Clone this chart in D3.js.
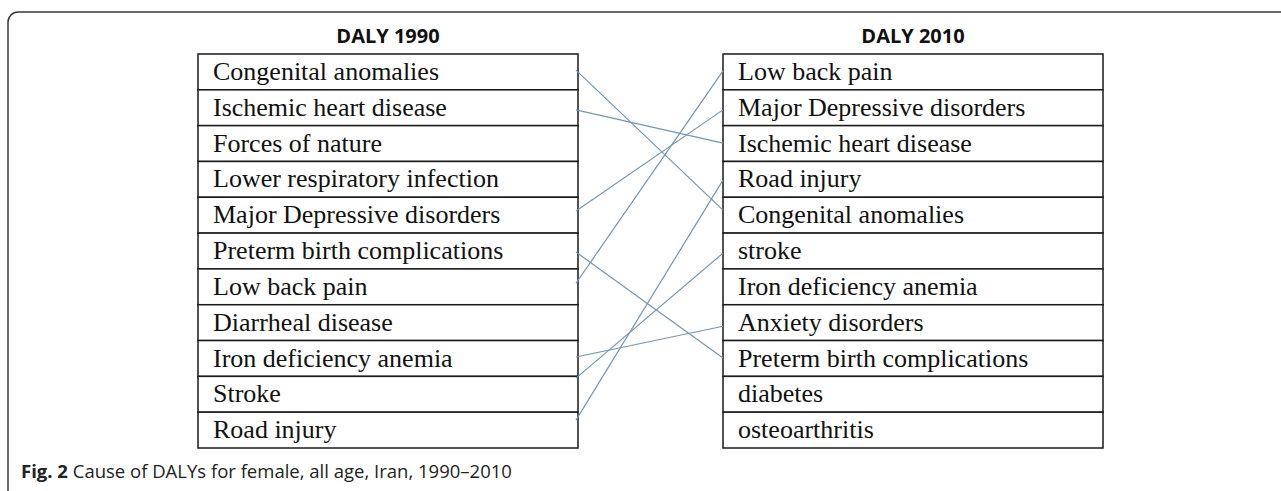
<!DOCTYPE html>
<html>
<head>
<meta charset="utf-8">
<script src="https://cdn.jsdelivr.net/npm/d3@7"></script>
<style>
    body { margin: 0; background: #fff; }
    #slope-chart { width: 1281px; height: 491px; }
</style>
</head>
<body>
<div id="slope-chart"></div>
<script>

// rankings, top to bottom
let causes1990 = ["Congenital anomalies", "Ischemic heart disease", "Forces of nature", "Lower respiratory infection",
    "Major Depressive disorders", "Preterm birth complications", "Low back pain", "Diarrheal disease",
    "Iron deficiency anemia", "Stroke", "Road injury"];
let causes2010 = ["Low back pain", "Major Depressive disorders", "Ischemic heart disease", "Road injury",
    "Congenital anomalies", "stroke", "Iron deficiency anemia", "Anxiety disorders",
    "Preterm birth complications", "diabetes", "osteoarthritis"];

// connector ends, measured in rows from the top of each table (as drawn in the figure)
let linkFrom = [0.45, 1.56, 4.38, 5.53, 6.40, 8.46, 9.05, 10.22];
let linkTo   = [4.36, 2.49, 1.56, 8.49, 0.47, 7.60, 5.56, 3.52];

let headers = ["DALY 1990", "DALY 2010"];
let captionBold = "Fig. 2";
let captionText = " Cause of DALYs for female, all age, Iran, 1990\u20132010";

class SlopeTable {

    constructor(parentElement) {
        this.parentElement = parentElement;
        this.initVis();
    }

    initVis() {
        let vis = this;

        vis.width = 1281;
        vis.height = 491;

        vis.svg = d3.select("#" + vis.parentElement)
            .append("svg")
            .attr("width", vis.width)
            .attr("height", vis.height);

        // panel frame, runs off the right and bottom edges
        vis.svg.append("rect")
            .attr("x", 8)
            .attr("y", 12)
            .attr("width", 1300)
            .attr("height", 520)
            .attr("rx", 10)
            .attr("fill", "none")
            .attr("stroke", "#3a3a3a")
            .attr("stroke-width", 1.5);

        vis.rowScale = d3.scaleLinear()
            .domain([0, causes1990.length])
            .range([54, 448]);

        vis.tables = [
            {x0: 198, x1: 578, rows: causes1990, title: headers[0]},
            {x0: 723, x1: 1103, rows: causes2010, title: headers[1]}
        ];

        vis.updateVis();
    }

    updateVis() {
        let vis = this;

        vis.tables.forEach(function (t) {
            let g = vis.svg.append("g");

            g.append("text")
                .attr("x", (t.x0 + t.x1) / 2)
                .attr("y", 43)
                .attr("text-anchor", "middle")
                .style("font-family", "'Open Sans', sans-serif")
                .style("font-weight", "bold")
                .style("font-size", "20px")
                .attr("fill", "#111")
                .text(t.title);

            g.selectAll(".cell")
                .data(t.rows)
                .enter()
                .append("rect")
                .attr("class", "cell")
                .attr("x", t.x0)
                .attr("y", (d, i) => vis.rowScale(i))
                .attr("width", t.x1 - t.x0)
                .attr("height", vis.rowScale(1) - vis.rowScale(0))
                .attr("fill", "#fff")
                .attr("stroke", "#1a1a1a")
                .attr("stroke-width", 1.5);

            g.selectAll(".label")
                .data(t.rows)
                .enter()
                .append("text")
                .attr("class", "label")
                .attr("x", t.x0 + 15)
                .attr("y", (d, i) => vis.rowScale(i) + 26)
                .style("font-family", "'Liberation Serif', 'Times New Roman', serif")
                .style("font-size", "26px")
                .attr("fill", "#111")
                .text(d => d);
        });

        vis.svg.selectAll(".link")
            .data(d3.zip(linkFrom, linkTo))
            .enter()
            .append("line")
            .attr("class", "link")
            .attr("x1", vis.tables[0].x1 - 2)
            .attr("y1", d => vis.rowScale(d[0]))
            .attr("x2", vis.tables[1].x0)
            .attr("y2", d => vis.rowScale(d[1]))
            .attr("stroke", "#7396b3")
            .attr("stroke-width", 1.2);

        let cap = vis.svg.append("text")
            .attr("x", 21)
            .attr("y", 478)
            .style("font-family", "'Open Sans', sans-serif")
            .style("font-size", "18.5px")
            .attr("fill", "#222");
        cap.append("tspan").style("font-weight", "bold").text(captionBold);
        cap.append("tspan").text(captionText);
    }
}

new SlopeTable("slope-chart");
</script>
</body>
</html>
